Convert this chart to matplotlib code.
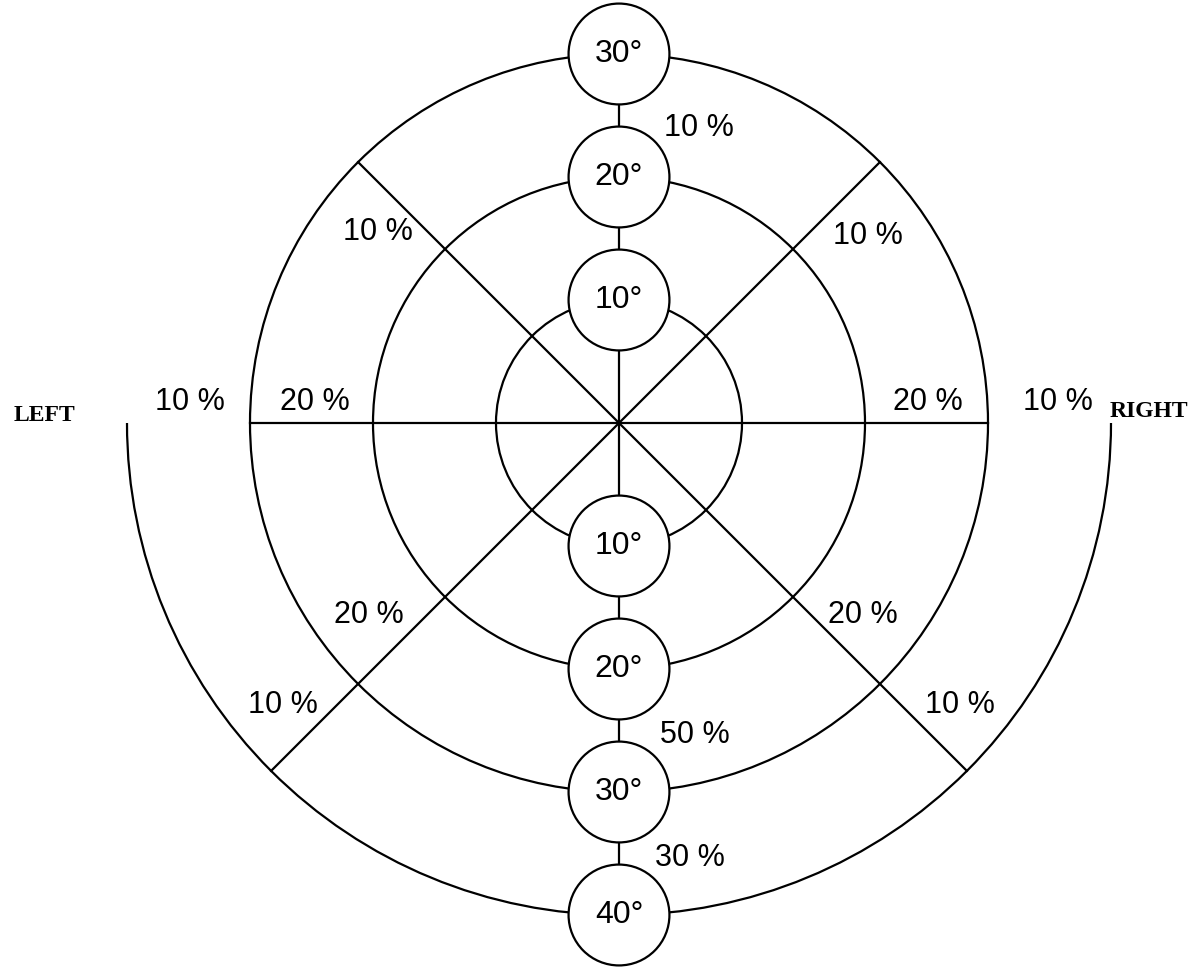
import numpy as np
import matplotlib
matplotlib.use('Agg')
import matplotlib.pyplot as plt
from matplotlib.patches import Circle, Arc

# rings (degrees) and their labels
full_rings = [10, 20, 30]
outer_ring = 40
top_marks = [10, 20, 30]
bottom_marks = [10, 20, 30, 40]

# percentage labels: (text, x, y) in ring units
pct_text = ['10 %', '10 %', '10 %', '10 %', '20 %', '20 %', '10 %',
            '20 %', '20 %', '10 %', '10 %', '50 %', '30 %']
pct_x = [6.5, -19.6, 20.2, -34.9, -24.7, 25.1, 35.7,
         -20.3, 19.8, -27.3, 27.7, 6.2, 5.8]
pct_y = [24.0, 15.5, 15.2, 1.7, 1.7, 1.7, 1.7,
         -15.6, -15.6, -22.9, -22.9, -25.4, -35.4]

s = 12.3  # px per unit
W, H = 1192, 975
cx, cy = 619, 423

fig = plt.figure(figsize=(W / 100, H / 100), dpi=100)
ax = fig.add_axes([0, 0, 1, 1])
ax.set_xlim(-cx / s, (W - cx) / s)
ax.set_ylim(-(H - cy) / s, cy / s)
ax.axis('off')

lw = 1.6
for r in full_rings:
    ax.add_patch(Circle((0, 0), r, fill=False, lw=lw, color='black', zorder=1))
ax.add_patch(Arc((0, 0), 2 * outer_ring, 2 * outer_ring, theta1=180, theta2=360,
                 lw=lw, color='black', zorder=1))

# spokes
R = full_rings[-1]
ax.plot([-R, R], [0, 0], color='black', lw=lw, zorder=1)
ax.plot([0, 0], [top_marks[-1], -bottom_marks[-1]], color='black', lw=lw, zorder=1)
for ang in [45, 135]:
    a = np.deg2rad(ang)
    ax.plot([0, R * np.cos(a)], [0, R * np.sin(a)], color='black', lw=lw, zorder=1)
for ang in [225, 315]:
    a = np.deg2rad(ang)
    ax.plot([0, outer_ring * np.cos(a)], [0, outer_ring * np.sin(a)],
            color='black', lw=lw, zorder=1)

# degree bubbles
br = 4.1
font = ['Liberation Sans', 'DejaVu Sans']
for v in top_marks:
    ax.add_patch(Circle((0, v), br, facecolor='white', edgecolor='black', lw=lw, zorder=3))
    ax.text(0, v, f'{v}°', ha='center', va='center', fontsize=23, family=font, zorder=4)
for v in bottom_marks:
    ax.add_patch(Circle((0, -v), br, facecolor='white', edgecolor='black', lw=lw, zorder=3))
    ax.text(0, -v, f'{v}°', ha='center', va='center', fontsize=23, family=font, zorder=4)

for t, x, y in zip(pct_text, pct_x, pct_y):
    ax.text(x, y, t, ha='center', va='center', fontsize=22, family=font, zorder=4)

ax.text(-46.7, 0.6, 'LEFT', ha='center', va='center', fontsize=17,
        fontweight='bold', family='Liberation Serif')
ax.text(43.1, 0.9, 'RIGHT', ha='center', va='center', fontsize=17,
        fontweight='bold', family='Liberation Serif')

fig.savefig('out.png', dpi=100, facecolor='white')
